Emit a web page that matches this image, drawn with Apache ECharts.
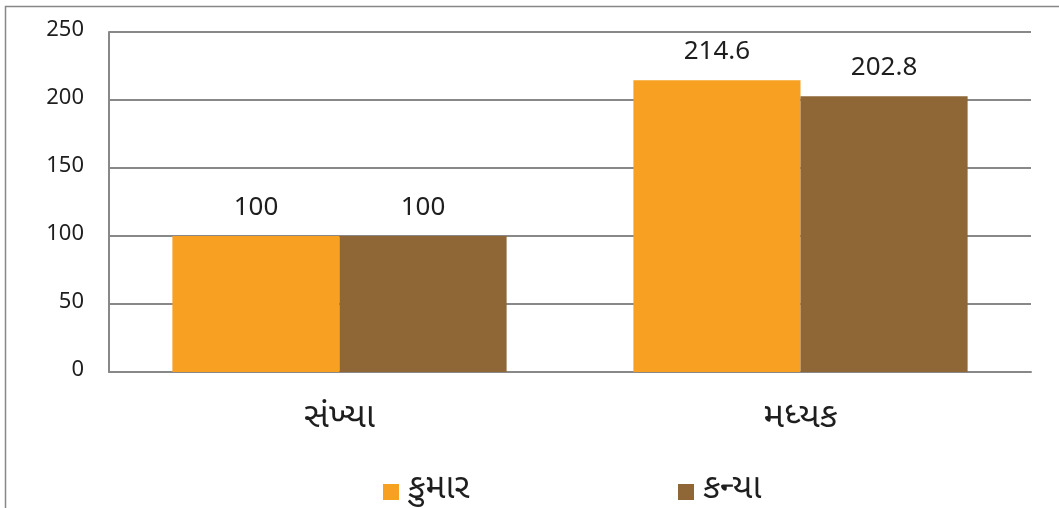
<!DOCTYPE html>
<html>
<head>
<meta charset="utf-8">
<script src="https://cdn.jsdelivr.net/npm/echarts@6/dist/echarts.min.js"></script>
<style>
html,body{margin:0;padding:0;background:#fff;}
#chart{width:1059px;height:508px;}
</style>
</head>
<body>
<div id="chart"></div>
<script>
const categories = ['સંખ્યા', 'મધ્યક'];
const seriesNames = ['કુમાર', 'કન્યા'];
const boysValues = [100, 214.6];
const girlsValues = [100, 202.8];
const yTicks = [0, 50, 100, 150, 200, 250];

const FONT = '"Noto Sans Gujarati", "Noto Sans", "DejaVu Sans", sans-serif';
const chart = echarts.init(document.getElementById('chart'), null, {renderer: 'canvas'});
chart.setOption({
  backgroundColor: '#fff',
  animation: false,
  textStyle: {fontFamily: FONT},
  graphic: [{
    type: 'rect',
    shape: {x: 5.5, y: 6.5, width: 1200, height: 700},
    style: {fill: 'none', stroke: '#888', lineWidth: 1.5},
    silent: true
  }],
  grid: {left: 109, right: 28, top: 32, bottom: 136, containLabel: false},
  legend: [
    {data: [seriesNames[0]], left: 383, top: 475, padding: 0, itemWidth: 16, itemHeight: 16, icon: 'rect',
     textStyle: {fontSize: 34, color: '#1e1e1e', fontFamily: FONT, padding: [0, 0, 0, 4]}},
    {data: [seriesNames[1]], left: 678, top: 475, padding: 0, itemWidth: 16, itemHeight: 16, icon: 'rect',
     textStyle: {fontSize: 34, color: '#1e1e1e', fontFamily: FONT, padding: [0, 0, 0, 4]}}
  ],
  xAxis: {
    type: 'category',
    data: categories,
    axisLine: {show: true, lineStyle: {color: '#888', width: 2}},
    axisTick: {show: false},
    axisLabel: {fontSize: 35, color: '#1e1e1e', margin: 31, fontFamily: FONT}
  },
  yAxis: {
    type: 'value',
    min: yTicks[0],
    max: yTicks[yTicks.length - 1],
    interval: 50,
    axisLine: {show: true, lineStyle: {color: '#888', width: 2}},
    axisTick: {show: false},
    splitLine: {show: true, lineStyle: {color: '#888', width: 2}},
    axisLabel: {fontSize: 22, color: '#1e1e1e', margin: 25, fontFamily: FONT}
  },
  series: [
    {
      name: seriesNames[0], type: 'bar', data: boysValues,
      barGap: '0%', barCategoryGap: '27.5%',
      itemStyle: {color: '#F7A021'},
      label: {show: true, position: 'top', distance: 13, fontSize: 26, color: '#1e1e1e', fontFamily: FONT}
    },
    {
      name: seriesNames[1], type: 'bar', data: girlsValues,
      barGap: '0%', barCategoryGap: '27.5%',
      itemStyle: {color: '#8F6636'},
      label: {show: true, position: 'top', distance: 13, fontSize: 26, color: '#1e1e1e', fontFamily: FONT}
    }
  ]
});
</script>
</body>
</html>
